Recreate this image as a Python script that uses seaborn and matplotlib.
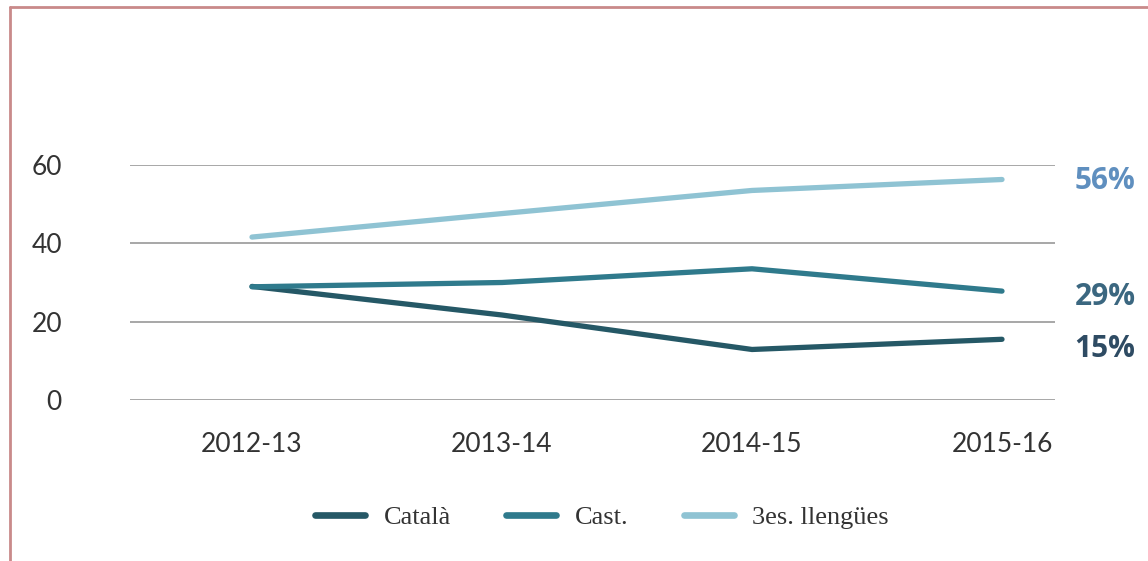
import matplotlib
matplotlib.use("Agg")
import matplotlib.pyplot as plt
import seaborn as sns
import pandas as pd
from matplotlib.lines import Line2D

# ---- data ----
years = ["2012-13", "2013-14", "2014-15", "2015-16"]
catala = [29.0, 21.7, 12.9, 15.5]
cast = [28.9, 30.0, 33.5, 27.8]
terceres = [41.6, 47.6, 53.5, 56.3]
series_names = ["Català", "Cast.", "3es. llengües"]
end_labels = ["15%", "29%", "56%"]
yticks = [0, 20, 40, 60]

colors = ["#255866", "#2f7a8c", "#8fc3d3"]
label_colors = ["#2e4b63", "#3b6780", "#5f8fbf"]

df = pd.DataFrame({
    "any": years * 3,
    "valor": catala + cast + terceres,
    "serie": [series_names[0]] * 4 + [series_names[1]] * 4 + [series_names[2]] * 4,
})
df["x"] = df["any"].map({y: i for i, y in enumerate(years)})

sns.set_theme(style="white")
plt.rcParams["font.family"] = ["Lato", "DejaVu Sans"]

fig = plt.figure(figsize=(11.48, 5.61), dpi=100)
fig.patch.set_facecolor("white")
ax = fig.add_axes([130 / 1148, (561 - 400) / 561, (1055 - 130) / 1148, (400 - 165) / 561])

sns.lineplot(data=df, x="x", y="valor", hue="serie", hue_order=series_names,
             palette=colors, linewidth=3.8, ax=ax, legend=False, sort=False)
for ln in ax.lines:
    ln.set_solid_capstyle("round")
    ln.set_clip_on(False)

ax.set_xlim(-0.488, 3.212)
ax.set_ylim(0, 60)
ax.set_yticks(yticks)
ax.set_yticklabels([str(v) for v in yticks])
ax.set_xticks(range(len(years)))
ax.set_xticklabels(years)
ax.set_xlabel("")
ax.set_ylabel("")
for v in yticks:
    ax.axhline(v, color="#a0a0a0", linewidth=1.3, zorder=0)
for s in ax.spines.values():
    s.set_visible(False)
ax.tick_params(axis="y", length=0, pad=49, labelsize=19, labelcolor="#333333")
ax.tick_params(axis="x", length=0, pad=23, labelsize=19, labelcolor="#333333")

# end labels
label_y = [12.9, 26.2, 56.0]
for txt, yy, c in zip(end_labels, label_y, label_colors):
    ax.text(3.29, yy, txt, color=c, fontsize=21.5, fontweight="bold",
            va="center", ha="left", clip_on=False, family=["Open Sans", "DejaVu Sans"])

# legend
handles = [Line2D([0], [0], color=c, linewidth=4.8, solid_capstyle="round") for c in colors]
leg = fig.legend(handles, series_names, loc="center", bbox_to_anchor=(602 / 1148, 1 - 517 / 561),
                 ncol=3, frameon=False, handlelength=1.9, handletextpad=0.7, columnspacing=2.1,
                 prop={"family": ["Liberation Serif", "DejaVu Serif"], "size": 19})
for t in leg.get_texts():
    t.set_color("#333333")

# frame border (top and left)
fig.add_artist(Line2D([10 / 1148, 1.0], [1 - 7 / 561, 1 - 7 / 561], color="#c98a8a", linewidth=2,
                      transform=fig.transFigure))
fig.add_artist(Line2D([10 / 1148, 10 / 1148], [0, 1 - 7 / 561], color="#c98a8a", linewidth=2,
                      transform=fig.transFigure))

fig.savefig("out.png", dpi=100, facecolor="white")
